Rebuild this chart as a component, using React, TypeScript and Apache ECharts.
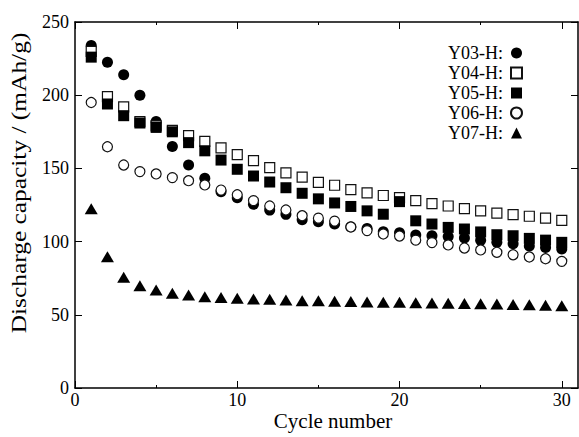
import React, { useEffect, useRef } from "react";
import * as echarts from "echarts";

const cycles = Array.from({ length: 30 }, (_, i) => i + 1);
const seriesNames = ["Y03-H:", "Y04-H:", "Y05-H:", "Y06-H:", "Y07-H:"];
const y03 = [234, 222.5, 214, 200, 182, 165, 152.3, 143.3, 134, 130, 125.5, 121.5, 118.6, 115, 113.6, 112, 110, 109, 106.8, 106, 104.5, 104, 103.5, 102.5, 101, 99.5, 98.5, 97, 96, 95];
const y04 = [230, 199, 192, 182, 179, 176, 172.4, 168.5, 164, 159.4, 155.3, 150.5, 147, 144, 140.5, 138.5, 135.5, 133.3, 131.5, 130, 128, 126, 124.3, 122.5, 121, 119.5, 118.4, 117.3, 116, 114.5];
const y05 = [226, 194, 186, 181, 178, 175, 167.6, 162, 155.7, 149.4, 144.8, 140.7, 136.8, 133, 129.2, 126.4, 124, 121, 118.7, 127.3, 114.2, 112, 109.7, 108.6, 106.6, 104.7, 104, 102.2, 101, 99.5];
const y06 = [195, 164.8, 152.3, 147.8, 146.2, 143.7, 141.6, 138.7, 135.2, 132, 128, 124.3, 121.6, 117.7, 116, 114, 110, 107.5, 105.2, 103.8, 101, 99.3, 97.7, 95.6, 94.3, 92.7, 91, 89.5, 88.3, 86.5];
const y07 = [122.5, 89.7, 75.6, 69.9, 66.9, 64.7, 63.5, 62.4, 61.9, 61.3, 60.8, 60.6, 60.1, 59.6, 59.6, 59.2, 59, 58.8, 58.6, 58.5, 58.3, 58.1, 57.9, 57.7, 57.5, 57.3, 57, 56.8, 56.5, 56.2];
const xMajorTicks = [0, 10, 20, 30];
const xMinorTicks = [5, 15, 25];

const FONT = "Liberation Serif";

export default function App() {
  const ref = useRef<HTMLDivElement>(null);
  useEffect(() => {
    if (!ref.current) return;
    const chart = echarts.init(ref.current, undefined, { renderer: "svg" });
    const lineStyle = { color: "#000", width: 1.5 };
    const xBase = (pos: string, labels: boolean, minor: boolean) => ({
      type: "value",
      position: pos,
      min: 0,
      max: 31,
      interval: 10,
      axisLine: { show: !minor, onZero: false, lineStyle },
      axisTick: {
        show: true,
        inside: true,
        length: minor ? 3 : 7,
        lineStyle: { color: "#000", width: 1 },
        customValues: minor ? xMinorTicks : xMajorTicks,
      },
      axisLabel: {
        show: labels,
        margin: 3,
        color: "#000",
        fontSize: 18,
        fontFamily: FONT,
        customValues: xMajorTicks,
      },
      splitLine: { show: false },
    });
    const yBase = (pos: string, labels: boolean) => ({
      type: "value",
      position: pos,
      min: 0,
      max: 250,
      interval: 50,
      axisLine: { show: true, onZero: false, lineStyle },
      axisTick: { show: true, inside: true, length: 7, lineStyle: { color: "#000", width: 1 } },
      axisLabel: { show: labels, margin: 6, color: "#000", fontSize: 18, fontFamily: FONT },
      splitLine: { show: false },
    });
    const mk = (vals: number[]) => cycles.map((c, i) => [c, vals[i]]);
    const open = { color: "#fff", borderColor: "#111", borderWidth: 1.2, opacity: 1 };
    const filled = { color: "#000", opacity: 1 };
    chart.setOption({
      animation: false,
      textStyle: { fontFamily: FONT },
      grid: { left: 75, right: 1, top: 22, bottom: 49, containLabel: false },
      xAxis: [xBase("bottom", true, false), xBase("bottom", false, true), xBase("top", false, false), xBase("top", false, true)],
      yAxis: [yBase("left", true), yBase("right", false)],
      legend: {
        orient: "vertical",
        right: 56,
        top: 44,
        padding: 0,
        align: "right",
        itemWidth: 11,
        itemHeight: 11,
        itemGap: 2,
        textStyle: { color: "#000", fontSize: 18, fontFamily: FONT, padding: [0, 3, 0, 0] },
        data: seriesNames,
      },
      graphic: [
        {
          type: "text",
          x: 333,
          y: 421,
          style: { text: "Cycle number", fontSize: 21, fontFamily: FONT, fill: "#000", align: "center", verticalAlign: "middle" },
        },
        {
          type: "text",
          x: 19,
          y: 183,
          rotation: Math.PI / 2,
          scaleX: 1.27,
          style: { text: "Discharge capacity / (mAh/g)", fontSize: 20, fontFamily: FONT, fill: "#000", align: "center", verticalAlign: "middle" },
        },
      ],
      series: [
        { name: seriesNames[0], type: "scatter", symbol: "circle", symbolSize: 11, itemStyle: filled, data: mk(y03) },
        { name: seriesNames[1], type: "scatter", symbol: "rect", symbolSize: 10, itemStyle: open, data: mk(y04) },
        { name: seriesNames[2], type: "scatter", symbol: "rect", symbolSize: 11, itemStyle: filled, data: mk(y05) },
        { name: seriesNames[3], type: "scatter", symbol: "circle", symbolSize: 10, itemStyle: open, data: mk(y06) },
        { name: seriesNames[4], type: "scatter", symbol: "triangle", symbolSize: [13, 11], itemStyle: filled, data: mk(y07) },
      ],
    });
    return () => chart.dispose();
  }, []);
  return <div ref={ref} style={{ width: 579, height: 437, position: "absolute", left: 0, top: 0 }} />;
}
